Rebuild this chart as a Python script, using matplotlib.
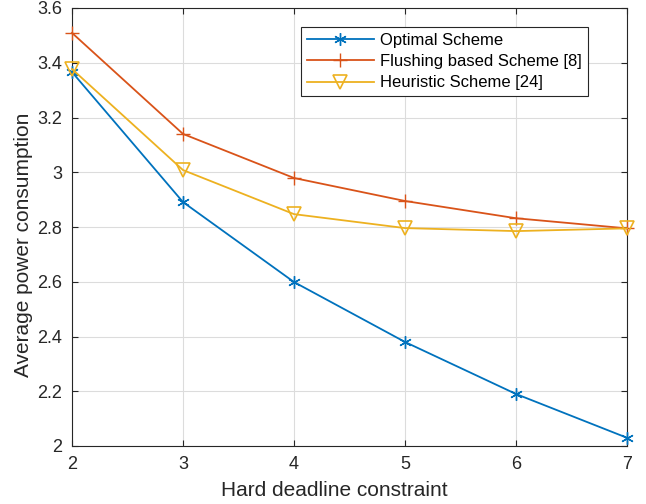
import matplotlib
matplotlib.use("Agg")
import matplotlib.pyplot as plt

plt.rcParams['font.family'] = ['Liberation Sans', 'DejaVu Sans']

x = [2, 3, 4, 5, 6, 7]
optimal = [3.366, 2.891, 2.599, 2.380, 2.190, 2.030]
flushing = [3.509, 3.140, 2.979, 2.895, 2.832, 2.795]
heuristic = [3.377, 3.008, 2.847, 2.796, 2.785, 2.795]
labels = ['Optimal Scheme', 'Flushing based Scheme [8]', 'Heuristic Scheme [24]']

fig = plt.figure(figsize=(6.46, 5.04), dpi=100)
ax = fig.add_axes([72/646, 58/504, 555/646, 438/504])

ax.plot(x, optimal, color='#0072BD', marker=(6, 2, 0), markersize=9, markeredgewidth=1.0, lw=1.3, label=labels[0], clip_on=False, zorder=3)
ax.plot(x, flushing, color='#D95319', marker='+', markersize=10, markeredgewidth=1.0, lw=1.3, label=labels[1], clip_on=False, zorder=3)
ax.plot(x, heuristic, color='#EDB120', marker='v', markersize=9.4, markerfacecolor='none', markeredgewidth=1.2, lw=1.3, label=labels[2], clip_on=False, zorder=3)

ax.set_xlim(2, 7)
ax.set_ylim(2, 3.6)
ax.set_xticks([2, 3, 4, 5, 6, 7])
ax.set_yticks([2, 2.2, 2.4, 2.6, 2.8, 3, 3.2, 3.4, 3.6])
ax.set_yticklabels(['2', '2.2', '2.4', '2.6', '2.8', '3', '3.2', '3.4', '3.6'])
ax.grid(True, color='#dcdcdc', lw=0.8)
ax.set_axisbelow(True)
for s in ax.spines.values():
    s.set_color('#262626')
    s.set_linewidth(0.8)
ax.tick_params(direction='in', labelsize=13, colors='#262626', top=True, right=True, length=4, pad=7)
ax.set_xlabel('Hard deadline constraint', fontsize=15, color='#262626')
ax.set_ylabel('Average power consumption', fontsize=15, color='#262626')
ax.xaxis.set_label_coords(0.472, -0.080)
ax.yaxis.set_label_coords(-0.0703, 0.459)

leg = ax.legend(loc='upper right', bbox_to_anchor=(0.9297, 0.957), borderaxespad=0, fontsize=12, fancybox=False,
                edgecolor='#262626', framealpha=1, borderpad=0.35, labelspacing=0.38, handlelength=4.0, handletextpad=0.4)
leg.get_frame().set_linewidth(0.8)

fig.savefig('out.png', dpi=100)
